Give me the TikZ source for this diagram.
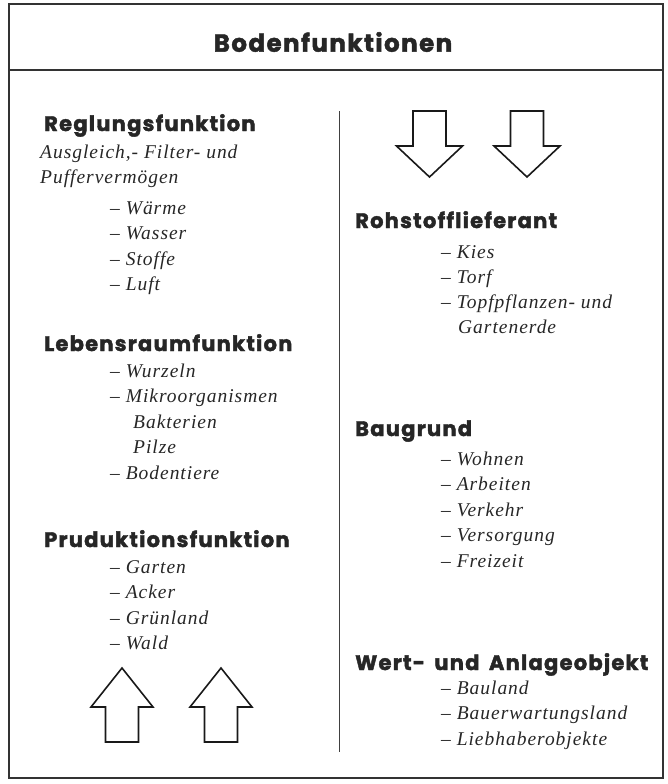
\documentclass[tikz,border=0pt]{standalone}
\usepackage{fontspec}
\setmainfont{Liberation Serif}
\newfontfamily\headfont{Poppins}[LetterSpace=6, BoldFeatures={FakeBold=2}]
\newfontfamily\itemfam{Liberation Serif}[LetterSpace=5]
\usetikzlibrary{math,positioning}

\tikzset{
  head/.style={anchor=base west, inner sep=0pt, text=black!85,
    font=\headfont\bfseries\fontsize{21}{21}\selectfont},
  item/.style={anchor=base west, inner sep=0pt, text=black!85,
    font=\itemfam\itshape\fontsize{19.5}{20}\selectfont},
  hollow/.style={draw=black!90, line width=1.6pt, line join=miter, fill=white}
}

\begin{document}
\begin{tikzpicture}[x=1pt, y=-1pt]
	\tikzmath{
		\lineStep = 25.5;
		\leftDash = 110;
		\rightDash = 441;
	}
    \useasboundingbox (0,0) rectangle (667,784);

    % frame and title
    \draw[line width=1.1pt, black!80] (9,4) rectangle (663,778);
    \draw[line width=1.1pt, black!80] (9,70) -- (663,70);
    \node[head, anchor=center, font=\headfont\bfseries\fontsize{24.5}{25}\selectfont] (title) at (333,42) {Bodenfunktionen};
    \draw[line width=0.8pt, black!75] (339,111) -- (339,752);

    % left column
    \node[head] (regel) at (44,131) {Reglungsfunktion};
    \node[item] (regel-a) at (40,158) {Ausgleich,- Filter- und};
    \node[item] (regel-b) at (40,183) {Puffervermögen};
    \foreach \txt [count=\i] in {Wärme,Wasser,Stoffe,Luft}
        \node[item] (regel-\i) at (\leftDash,214+\lineStep*\i-\lineStep) {\textendash\ \txt};

    \node[head] (leben) at (44,351) {Lebensraumfunktion};
    \node[item] (leben-1) at (\leftDash,377) {\textendash\ Wurzeln};
    \node[item] (leben-2) at (\leftDash,402.5) {\textendash\ Mikroorganismen};
    \node[item] (leben-3) at (133,428) {Bakterien};
    \node[item] (leben-4) at (133,453.5) {Pilze};
    \node[item] (leben-5) at (\leftDash,479) {\textendash\ Bodentiere};

    \node[head] (prod) at (44,547) {Pruduktionsfunktion};
    \foreach \txt [count=\i] in {Garten,Acker,Grünland,Wald}
        \node[item] (prod-\i) at (\leftDash,573+\lineStep*\i-\lineStep) {\textendash\ \txt};

    % right column
    \node[head] (roh) at (355,228) {Rohstofflieferant};
    \node[item] (roh-1) at (\rightDash,258) {\textendash\ Kies};
    \node[item] (roh-2) at (\rightDash,283) {\textendash\ Torf};
    \node[item] (roh-3) at (\rightDash,308) {\textendash\ Topfpflanzen- und};
    \node[item] (roh-4) at (458,333) {Gartenerde};

    \node[head] (bau) at (355,436) {Baugrund};
    \foreach \txt [count=\i] in {Wohnen,Arbeiten,Verkehr,Versorgung,Freizeit}
        \node[item] (bau-\i) at (\rightDash,465+\lineStep*\i-\lineStep) {\textendash\ \txt};

    \node[head] (wert) at (355,670) {Wert-\hspace{0.45em}und\hspace{0.45em}Anlageobjekt};
    \foreach \txt [count=\i] in {Bauland,Bauerwartungsland,Liebhaberobjekte}
        \node[item] (wert-\i) at (\rightDash,694+\lineStep*\i-\lineStep) {\textendash\ \txt};

    % hollow arrows
    \foreach \cx in {429.5,527}
        \draw[hollow] (\cx-16.5,111) -- (\cx+16.5,111) -- (\cx+16.5,146) -- (\cx+33,146)
            -- (\cx,177) -- (\cx-33,146) -- (\cx-16.5,146) -- cycle;
    \foreach \cx in {122,221}
        \draw[hollow] (\cx-16.5,742) -- (\cx+16.5,742) -- (\cx+16.5,707) -- (\cx+31,707)
            -- (\cx,668) -- (\cx-31,707) -- (\cx-16.5,707) -- cycle;
\end{tikzpicture}
\end{document}
